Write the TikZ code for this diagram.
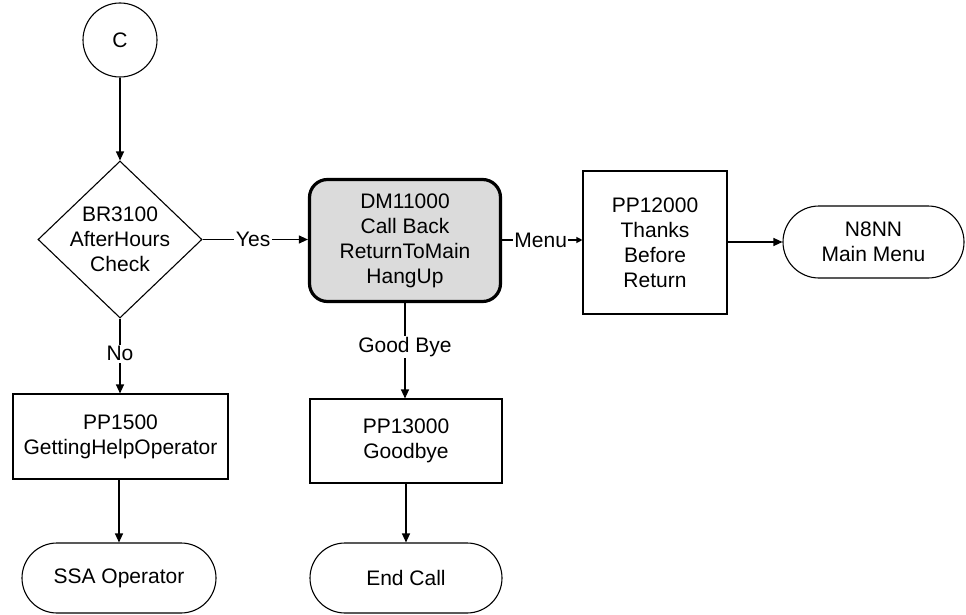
\documentclass[tikz,border=0pt]{standalone}
\usepackage{fontspec}
\setmainfont{Liberation Sans}
\usetikzlibrary{shapes.geometric,shapes.misc,arrows.meta}
\begin{document}
\begin{tikzpicture}[x=1pt,y=-1pt,
  every node/.style={font=\fontsize{21}{25}\selectfont, align=center},
  box/.style={draw, line width=1.1pt, rectangle, inner sep=0pt},
  term/.style={draw, line width=1.1pt, rounded rectangle, inner sep=0pt},
  conn/.style={line width=1.1pt, -{Triangle[length=9pt,width=8pt]}},
  smallconn/.style={line width=1.1pt, -{Triangle[length=6pt,width=6pt]}},
  lbl/.style={fill=white, inner sep=1.5pt, font=\fontsize{21}{25}\selectfont}
]
\useasboundingbox (0,0) rectangle (966,615);
\node[draw, circle, line width=1.1pt, minimum size=74pt, inner sep=0pt] (c) at (120,40) {C};
\node[draw, diamond, line width=1.1pt, minimum width=164pt, minimum height=157pt, inner sep=0pt] (dia) at (120,239.5) {};
\node (diat) at (120,239.5) {BR3100\\AfterHours\\Check};
\node[draw, line width=3.2pt, fill=black!14, rounded corners=18pt, minimum width=191pt, minimum height=122pt, inner sep=0pt] (dm) at (405,240.5) {DM11000\\Call Back\\ReturnToMain\\HangUp};
\node[box, minimum width=144pt, minimum height=143pt] (pp12) at (655,242.5) {PP12000\\Thanks\\Before\\Return};
\node[term, minimum width=181pt, minimum height=72pt] (n8) at (873.5,242) {N8NN\\Main Menu};
\node[box, minimum width=192pt, minimum height=84pt] (pp13) at (406,441) {PP13000\\Goodbye};
\node[term, minimum width=192pt, minimum height=70pt] (endc) at (406,578) {End Call};
\node[box, minimum width=215pt, minimum height=85pt] (pp15) at (120.5,436.5) {PP1500\\GettingHelpOperator};
\node[term, minimum width=194pt, minimum height=70pt] (ssa) at (119,578) {SSA Operator};

\draw[conn] (c.south) -- (dia.north);
\draw[conn] (dia.east) -- node[lbl, pos=0.48] (yes) {Yes} (dia.east -| dm.west);
\draw[smallconn] (dm.east |- 240,240) -- node[lbl, pos=0.48, inner sep=1pt] (menu) {Menu} (pp12.west |- 240,240);
\draw[conn] (pp12.east |- 242,242) -- (n8.west);
\draw[conn] (dm.south) -- node[lbl, pos=0.46] (gb) {Good Bye} (pp13.north -| dm.south);
\draw[conn] (pp13.south) -- (endc.north);
\draw[conn] (dia.south) -- node[lbl, pos=0.47] (no) {No} (pp15.north -| dia.south);
\draw[conn] (pp15.south -| ssa.north) -- (ssa.north);
\end{tikzpicture}
\end{document}
